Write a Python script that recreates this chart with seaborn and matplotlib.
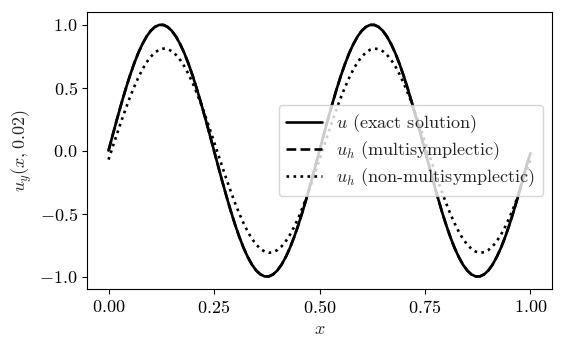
import pandas as pd
import seaborn as sns
import matplotlib
matplotlib.use("Agg")
import matplotlib.pyplot as plt

# values, x step 0.01
x = [i / 100 for i in range(101)]

u_exact = [
    0.000, 0.125, 0.249, 0.368, 0.482, 0.588, 0.685, 0.771, 0.844, 0.905,
    0.951, 0.982, 0.998, 0.998, 0.982, 0.951, 0.905, 0.844, 0.771, 0.685,
    0.588, 0.482, 0.368, 0.249, 0.125,
    0.000, -0.125, -0.249, -0.368, -0.482, -0.588, -0.685, -0.771, -0.844, -0.905,
    -0.951, -0.982, -0.998, -0.998, -0.982, -0.951, -0.905, -0.844, -0.771, -0.685,
    -0.588, -0.482, -0.368, -0.249, -0.125,
    0.000, 0.125, 0.249, 0.368, 0.482, 0.588, 0.685, 0.771, 0.844, 0.905,
    0.951, 0.982, 0.998, 0.998, 0.982, 0.951, 0.905, 0.844, 0.771, 0.685,
    0.588, 0.482, 0.368, 0.249, 0.125,
    0.000, -0.125, -0.249, -0.368, -0.482, -0.588, -0.685, -0.771, -0.844, -0.905,
    -0.951, -0.982, -0.998, -0.998, -0.982, -0.951, -0.905, -0.844, -0.771, -0.685,
    -0.588, -0.482, -0.368, -0.249, -0.125,
    -0.020,
]

u_ms = [
    0.000, 0.125, 0.249, 0.368, 0.482, 0.588, 0.685, 0.771, 0.844, 0.905,
    0.951, 0.982, 0.998, 0.998, 0.982, 0.951, 0.905, 0.844, 0.771, 0.685,
    0.588, 0.482, 0.368, 0.249, 0.125,
    0.000, -0.125, -0.249, -0.368, -0.482, -0.588, -0.685, -0.771, -0.844, -0.905,
    -0.951, -0.982, -0.998, -0.998, -0.982, -0.951, -0.905, -0.844, -0.771, -0.685,
    -0.588, -0.482, -0.368, -0.249, -0.125,
    0.000, 0.125, 0.249, 0.368, 0.482, 0.588, 0.685, 0.771, 0.844, 0.905,
    0.951, 0.982, 0.998, 0.998, 0.982, 0.951, 0.905, 0.844, 0.771, 0.685,
    0.588, 0.482, 0.368, 0.249, 0.125,
    0.000, -0.125, -0.249, -0.368, -0.482, -0.588, -0.685, -0.771, -0.844, -0.905,
    -0.951, -0.982, -0.998, -0.998, -0.982, -0.951, -0.905, -0.844, -0.771, -0.685,
    -0.588, -0.482, -0.368, -0.249, -0.125,
    -0.020,
]

u_nonms = [
    -0.071, 0.031, 0.132, 0.231, 0.326, 0.417, 0.500, 0.576, 0.643, 0.700,
    0.745, 0.779, 0.801, 0.810, 0.806, 0.789, 0.760, 0.719, 0.667, 0.604,
    0.532, 0.451, 0.363, 0.270, 0.172,
    0.071, -0.031, -0.132, -0.231, -0.326, -0.417, -0.500, -0.576, -0.643, -0.700,
    -0.745, -0.779, -0.801, -0.810, -0.806, -0.789, -0.760, -0.719, -0.667, -0.604,
    -0.532, -0.451, -0.363, -0.270, -0.172,
    -0.071, 0.031, 0.132, 0.231, 0.326, 0.417, 0.500, 0.576, 0.643, 0.700,
    0.745, 0.779, 0.801, 0.810, 0.806, 0.789, 0.760, 0.719, 0.667, 0.604,
    0.532, 0.451, 0.363, 0.270, 0.172,
    0.071, -0.031, -0.132, -0.231, -0.326, -0.417, -0.500, -0.576, -0.643, -0.700,
    -0.745, -0.779, -0.801, -0.810, -0.806, -0.789, -0.760, -0.719, -0.667, -0.604,
    -0.532, -0.451, -0.363, -0.270, -0.172,
    -0.071,
]

labels = [r"$u$ (exact solution)", r"$u_h$ (multisymplectic)", r"$u_h$ (non-multisymplectic)"]

sns.set_style("ticks")
plt.rcParams.update({
    "font.family": "serif",
    "font.serif": ["cmr10", "DejaVu Serif"],
    "mathtext.fontset": "cm",
    "axes.formatter.use_mathtext": True,
    "font.size": 13,
    "axes.unicode_minus": True,
})

df = pd.DataFrame({"x": x, "exact": u_exact, "ms": u_ms, "nonms": u_nonms})

fig = plt.figure(figsize=(5.64, 3.52), dpi=100)
ax = fig.add_axes([0.155, 0.179, 0.823, 0.786])

sns.lineplot(data=df, x="x", y="exact", ax=ax, color="black", lw=1.9, label=labels[0])
sns.lineplot(data=df, x="x", y="ms", ax=ax, color="black", lw=1.9, ls="--", label=labels[1])
sns.lineplot(data=df, x="x", y="nonms", ax=ax, color="black", lw=1.9, ls=":", label=labels[2])

ax.set_xticks([0.0, 0.25, 0.5, 0.75, 1.0])
ax.set_yticks([-1.0, -0.5, 0.0, 0.5, 1.0])
ax.set_xlabel(r"$x$", fontsize=13)
ax.set_ylabel(r"$u_y(x, 0.02)$", fontsize=13)
for s in ax.spines.values():
    s.set_visible(True)
    s.set_color("black")
ax.tick_params(colors="black", labelsize=13)
ax.legend(loc="center right", fontsize=13, framealpha=0.8, labelspacing=0.25)

fig.savefig("out.png", dpi=100)
